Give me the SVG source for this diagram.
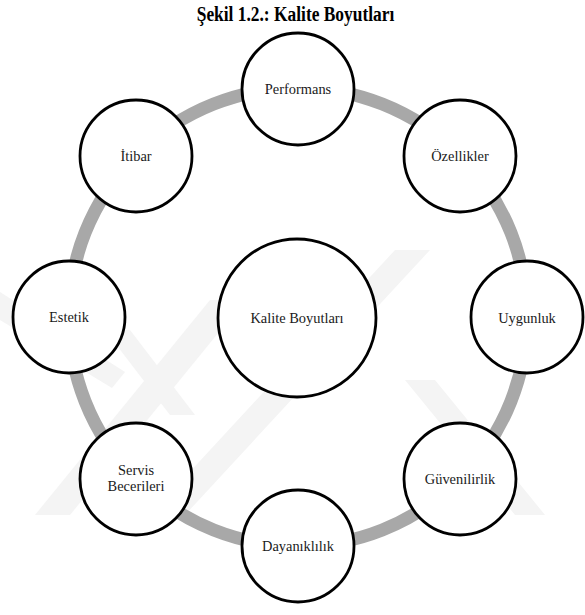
<svg xmlns="http://www.w3.org/2000/svg" width="585" height="615" viewBox="0 0 585 615">
<style>
.node{fill:#ffffff;stroke:#000000;stroke-width:2.8}
.lbl{font-family:"Liberation Serif","DejaVu Serif",serif;font-size:15.5px;fill:#1a1a1a;text-anchor:middle}
.title{font-family:"Liberation Serif","DejaVu Serif",serif;font-size:20px;font-weight:bold;fill:#000000;text-anchor:middle}
.ring{fill:none;stroke:#a8a8a8;stroke-width:13}
.wm{fill:#f4f4f4}
</style>
<rect width="585" height="615" fill="#ffffff"/>
<g id="watermark">
<polygon class="wm" points="35,515 70,515 245,300 210,300"/>
<polygon class="wm" points="150,515 185,515 430,250 395,250"/>
<polygon class="wm" points="0,292 0,320 112,388 125,372"/>
<polygon class="wm" points="105,330 130,330 195,415 170,415"/>
<polygon class="wm" points="405,380 435,380 545,515 515,515"/>
</g>
<text class="title" transform="translate(295.5,21) scale(0.87,1)">Şekil 1.2.: Kalite Boyutları</text>
<g id="connectors">
<circle class="ring" cx="298" cy="317" r="229"/>
</g>
<g id="center">
<circle class="node" cx="297" cy="318" r="79"/>
<text class="lbl" transform="translate(297,323) scale(0.93,1)">Kalite Boyutları</text>
</g>
<g id="performans">
<circle class="node" cx="298" cy="89" r="56"/>
<text class="lbl" transform="translate(298,94) scale(0.93,1)">Performans</text>
</g>
<g id="ozellikler">
<circle class="node" cx="460" cy="156" r="56"/>
<text class="lbl" transform="translate(460,161) scale(0.93,1)">Özellikler</text>
</g>
<g id="uygunluk">
<circle class="node" cx="527" cy="317" r="56"/>
<text class="lbl" transform="translate(527,322.5) scale(0.93,1)">Uygunluk</text>
</g>
<g id="guvenilirlik">
<circle class="node" cx="460" cy="479" r="56"/>
<text class="lbl" transform="translate(460,484) scale(0.93,1)">Güvenilirlik</text>
</g>
<g id="dayaniklilik">
<circle class="node" cx="298" cy="546" r="56"/>
<text class="lbl" transform="translate(298,551) scale(0.93,1)">Dayanıklılık</text>
</g>
<g id="servis">
<circle class="node" cx="136" cy="479" r="56"/>
<text class="lbl" transform="translate(136,475) scale(0.93,1)">Servis</text>
<text class="lbl" transform="translate(136,491) scale(0.93,1)">Becerileri</text>
</g>
<g id="estetik">
<circle class="node" cx="69" cy="317" r="56"/>
<text class="lbl" transform="translate(69,322) scale(0.93,1)">Estetik</text>
</g>
<g id="itibar">
<circle class="node" cx="136" cy="156" r="56"/>
<text class="lbl" transform="translate(136,161) scale(0.93,1)">İtibar</text>
</g>
</svg>
